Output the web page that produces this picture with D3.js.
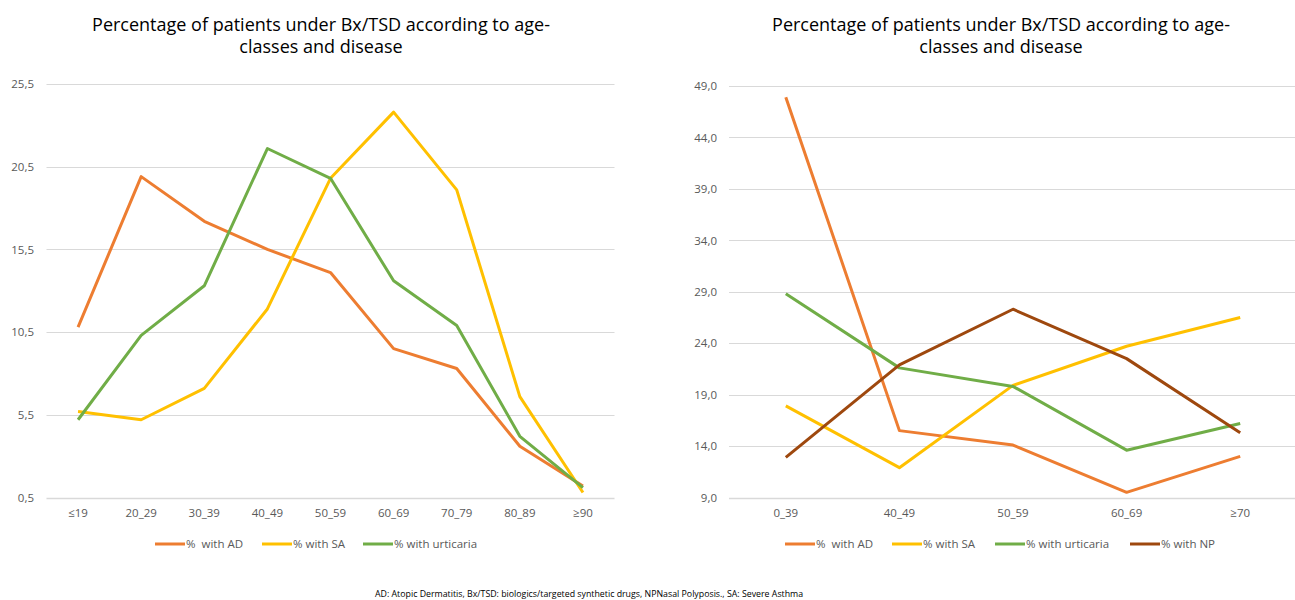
<!DOCTYPE html>
<html>
<head>
<meta charset="utf-8">
<script src="https://cdn.jsdelivr.net/npm/d3@7"></script>
<style>
  html, body { margin: 0; padding: 0; background: #fff; }
  svg { display: block; }
  text { font-family: "Open Sans", "Liberation Sans", sans-serif; }
</style>
</head>
<body>
<svg id="chart" width="1295" height="600"></svg>
<script>
// ---------- DATA ----------
const leftCategories = ["≤19", "20_29", "30_39", "40_49", "50_59", "60_69", "70_79", "80_89", "≥90"];
const leftAD = [10.8, 19.9, 17.2, 15.5, 14.1, 9.5, 8.3, 3.6, 1.2];
const leftSA = [5.7, 5.2, 7.1, 11.9, 19.8, 23.8, 19.1, 6.6, 0.8];
const leftUrticaria = [5.2, 10.3, 13.3, 21.6, 19.8, 13.6, 10.9, 4.2, 1.1];
const leftTicks = [0.5, 5.5, 10.5, 15.5, 20.5, 25.5];

const rightCategories = ["0_39", "40_49", "50_59", "60_69", "≥70"];
const rightAD = [47.9, 15.5, 14.1, 9.5, 13.0];
const rightSA = [17.9, 11.9, 19.9, 23.7, 26.5];
const rightUrticaria = [28.8, 21.6, 19.8, 13.6, 16.2];
const rightNP = [12.9, 21.9, 27.3, 22.5, 15.3];
const rightTicks = [9, 14, 19, 24, 29, 34, 39, 44, 49];

const seriesNames = ["%  with AD", "% with SA", "% with urticaria", "% with NP"];
const titleLines = ["Percentage of patients under Bx/TSD according to age-", "classes and disease"];
const footnote = "AD: Atopic Dermatitis, Bx/TSD: biologics/targeted synthetic drugs, NPNasal Polyposis., SA: Severe Asthma";

const colors = { AD: "#ED7D31", SA: "#FFC000", URT: "#70AD47", NP: "#9E480E" };

// ---------- DRAW ----------
const svg = d3.select("#chart");
const fmt = v => d3.format(".1f")(v).replace(".", ",");

function drawPanel(cfg) {
  const g = svg.append("g");
  const x = d3.scaleBand().domain(cfg.categories).range([cfg.x0, cfg.x1]);
  const y = d3.scaleLinear().domain([cfg.ticks[0], cfg.ticks[cfg.ticks.length - 1]]).range([cfg.y0, cfg.y1]);

  // title
  const title = g.append("text")
    .attr("x", cfg.titleX).attr("y", 31)
    .attr("text-anchor", "middle")
    .style("font-size", "18px").style("fill", "#000");
  titleLines.forEach((t, i) => {
    title.append("tspan").attr("x", cfg.titleX).attr("dy", i === 0 ? 0 : 22).text(t);
  });

  // gridlines
  g.selectAll(".grid").data(cfg.ticks).enter().append("line")
    .attr("x1", cfg.x0).attr("x2", cfg.x1)
    .attr("y1", d => Math.round(y(d)) + 0.5).attr("y2", d => Math.round(y(d)) + 0.5)
    .attr("stroke", "#D9D9D9")
    .attr("stroke-width", (d, i) => i === 0 ? 1.5 : 1);

  // y axis labels
  const yAxis = d3.axisLeft(y).tickValues(cfg.ticks).tickFormat(fmt).tickSize(0).tickPadding(0);
  const ya = g.append("g").attr("transform", `translate(${cfg.yLabelX},0)`).call(yAxis);
  ya.select(".domain").remove();
  ya.selectAll("text").style("font-size", "11.5px").style("fill", "#595959")
    .style("font-family", "'Open Sans', sans-serif");

  // x axis labels
  const xAxis = d3.axisBottom(x).tickSize(0).tickPadding(0);
  const xa = g.append("g").attr("transform", `translate(0,${cfg.y0 + 11})`).call(xAxis);
  xa.select(".domain").remove();
  xa.selectAll("text").style("font-size", "11.5px").style("fill", "#595959")
    .style("font-family", "'Open Sans', sans-serif");

  // lines
  const line = d3.line()
    .x((d, i) => x(cfg.categories[i]) + x.bandwidth() / 2)
    .y(d => y(d));
  cfg.series.forEach(s => {
    g.append("path").datum(s.values)
      .attr("d", line)
      .attr("fill", "none")
      .attr("stroke", s.color)
      .attr("stroke-width", 3)
      .attr("stroke-linejoin", "round");
  });

  // legend
  const lg = g.append("g");
  cfg.series.forEach((s, i) => {
    const lx = cfg.legendX[i];
    lg.append("line")
      .attr("x1", lx).attr("x2", lx + 30)
      .attr("y1", cfg.legendY).attr("y2", cfg.legendY)
      .attr("stroke", s.color).attr("stroke-width", 3);
    lg.append("text")
      .attr("x", lx + 31).attr("y", cfg.legendY + 4)
      .style("font-size", "11.5px").style("fill", "#595959")
      .style("white-space", "pre")
      .text(s.name);
  });
}

drawPanel({
  categories: leftCategories,
  ticks: leftTicks,
  x0: 46.5, x1: 614.5,
  y0: 497.5, y1: 84,
  yLabelX: 34,
  titleX: 321,
  legendY: 544,
  legendX: [155, 262, 363],
  series: [
    { name: seriesNames[0], values: leftAD, color: colors.AD },
    { name: seriesNames[1], values: leftSA, color: colors.SA },
    { name: seriesNames[2], values: leftUrticaria, color: colors.URT }
  ]
});

drawPanel({
  categories: rightCategories,
  ticks: rightTicks,
  x0: 729, x1: 1297,
  y0: 497.5, y1: 86,
  yLabelX: 717,
  titleX: 1001,
  legendY: 544,
  legendX: [785, 892, 995, 1130],
  series: [
    { name: seriesNames[0], values: rightAD, color: colors.AD },
    { name: seriesNames[1], values: rightSA, color: colors.SA },
    { name: seriesNames[2], values: rightUrticaria, color: colors.URT },
    { name: seriesNames[3], values: rightNP, color: colors.NP }
  ]
});

svg.append("text")
  .attr("x", 375).attr("y", 597)
  .style("font-size", "8.8px").style("fill", "#000")
  .text(footnote);
</script>
</body>
</html>
